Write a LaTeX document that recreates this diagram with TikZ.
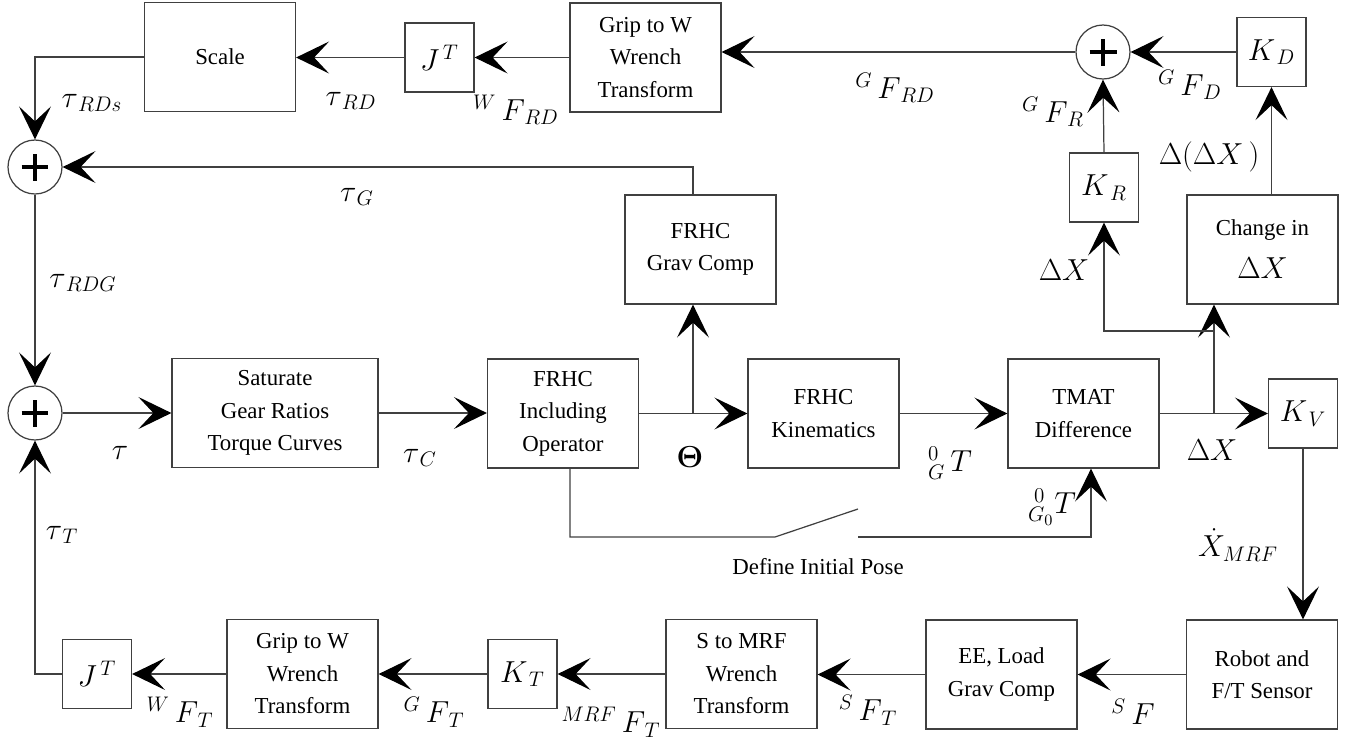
\documentclass[tikz,border=0pt]{standalone}
\usepackage{amsmath}
\usepackage{bm}
\usepackage{fontspec}
\setmainfont{Liberation Serif}
\usetikzlibrary{arrows.meta}

\begin{document}
\begin{tikzpicture}[
  x=0.02cm, y=-0.02cm,
  blk/.style={draw=black!75, line width=0.7pt, minimum width=3.02cm, minimum height=2.18cm, inner sep=0pt, align=center, font=\fontsize{13}{18.5}\selectfont},
  gain/.style={draw=black!75, line width=0.7pt, minimum size=1.38cm, inner sep=0pt, font=\fontsize{18.5}{22}\selectfont},
  sum/.style={circle, draw=black!75, line width=0.7pt, minimum size=1.08cm, inner sep=0pt,
    path picture={\draw[black, line width=2.4pt]
      ([xshift=-0.27cm]path picture bounding box.center) -- ([xshift=0.27cm]path picture bounding box.center)
      ([yshift=-0.27cm]path picture bounding box.center) -- ([yshift=0.27cm]path picture bounding box.center);}},
  sig/.style={inner sep=0pt, font=\fontsize{18}{21}\selectfont},
  lbl/.style={inner sep=0pt, font=\fontsize{13}{15}\selectfont},
  wire/.style={draw=black!75, line width=0.7pt},
  arrow/.style={wire, -{Stealth[length=6.6mm, width=6.4mm, inset=3mm, color=black]}}
]
\useasboundingbox (0,0) rectangle (1347,752);

\node[blk] (scale) at (220,57) {Scale};
\node[gain] (jtop) at (439.5,57.5) {$J^{\,T}$};
\node[blk] (griptop) at (645.5,57.5) {Grip to W\\Wrench\\Transform};
\node[sum] (sumtop) at (1103,52) {};
\node[gain] (kd) at (1271.5,52) {$K_{\,D}$};
\node[gain] (kr) at (1104,187.5) {$K_{\,R}$};
\node[blk] (change) at (1262.5,249.5) {Change in\\[6pt]{\fontsize{18.5}{22}\selectfont$\Delta X$}};

\node[sum] (suma) at (35,167) {};
\node[sum] (sumb) at (35,413) {};
\node[blk] (gravcomp) at (700.5,249.5) {FRHC\\Grav Comp};

\node[blk, minimum width=4.12cm] (sat) at (275,413) {Saturate\\Gear Ratios\\Torque Curves};
\node[blk] (incl) at (563,413.5) {FRHC\\Including\\Operator};
\node[blk] (kin) at (823.5,413.5) {FRHC\\Kinematics};
\node[blk] (tmat) at (1083.5,413.5) {TMAT\\Difference};
\node[gain] (kv) at (1303,413.5) {$K_{\,V}$};

\node[blk] (robot) at (1262,674.5) {Robot and\\F/T Sensor};
\node[blk] (ee) at (1001.5,674.5) {EE, Load\\Grav Comp};
\node[blk] (s2mrf) at (741.5,674) {S to MRF\\Wrench\\Transform};
\node[gain] (kt) at (522.5,674) {$K_{\,T}$};
\node[blk] (gripbot) at (302.5,674) {Grip to W\\Wrench\\Transform};
\node[gain] (jbot) at (97,674) {$J^{\,T}$};

\coordinate (thj) at (693,413.5);
\coordinate (dxj) at (1214,413.5);
\coordinate (krj) at (1214,331);
\coordinate (pose0) at (570,537);
\coordinate (swa) at (775,537);
\coordinate (swb) at (858,509);
\coordinate (swc) at (858,537);
\coordinate (g0) at (1091,537);

\draw[arrow] (jtop.west) -- (jtop.west -| scale.east);
\draw[arrow] (griptop.west) -- (griptop.west -| jtop.east);
\draw[arrow] (sumtop.west) -- (sumtop.west -| griptop.east);
\draw[arrow] (kd.west) -- (sumtop.east);
\draw[arrow] (kr.north) -- (sumtop.south);
\draw[arrow] (change.north -| kd.south) -- (kd.south);
\draw[arrow] (scale.west) -| (suma.north);
\draw[arrow] (gravcomp.north -| thj) |- (suma.east);
\draw[arrow] (suma.south) -- (sumb.north);
\draw[arrow] (sumb.east) -- (sat.west);
\draw[arrow] (sat.east) -- (sat.east -| incl.west);
\draw[arrow] (incl.east) -- (kin.west);
\draw[arrow] (thj) -- (thj |- gravcomp.south);
\draw[arrow] (kin.east) -- (tmat.west);
\draw[arrow] (tmat.east) -- (kv.west);
\draw[arrow] (dxj) -- (dxj |- change.south);
\draw[arrow] (krj) -| (kr.south);
\draw[arrow] (kv.south) -- (kv.south |- robot.north);
\draw[arrow] (robot.west) -- (ee.east);
\draw[arrow] (ee.west) -- (ee.west -| s2mrf.east);
\draw[arrow] (s2mrf.west) -- (kt.east);
\draw[arrow] (kt.west) -- (gripbot.east);
\draw[arrow] (gripbot.west) -- (jbot.east);
\draw[arrow] (jbot.west) -| (sumb.south);
\draw[wire] (pose0 |- incl.south) -- (pose0) -- (swa) -- (swb);
\draw[arrow] (swc) -- (g0) -- (g0 |- tmat.south);

\node[sig] (trds) at (92,103) {$\tau_{\,RDs}$};
\node[sig] (trd) at (351,101) {$\tau_{\,RD}$};
\node[sig] (tg) at (357,197) {$\tau_{\,G}$};
\node[sig] (wfrd) at (516,110) {${}^{W}\,F_{\,RD}$};
\node[sig] (gfrd) at (895,88) {${}^{G}\,F_{\,RD}$};
\node[sig] (gfd) at (1190,85) {${}^{G}\,F_{\,D}$};
\node[sig] (gfr) at (1053,112) {${}^{G}\,F_{\,R}$};
\node[sig] (ddx) at (1209,157) {$\Delta(\Delta X\,)$};
\node[sig] (dxkr) at (1064,270) {$\Delta X$};
\node[sig] (trdg) at (83,283) {$\tau_{\,RDG}$};
\node[sig] (tau) at (120,453) {$\tau$};
\node[sig] (tc) at (420,458) {$\tau_{\,C}$};
\node[sig] (theta) at (690,457) {$\boldsymbol{\Theta}$};
\node[sig] (gt) at (950,463) {${}^{0}_{G}\,T$};
\node[sig] (g0t) at (1052,507) {${}^{\;0}_{G_0}T$};
\node[sig] (dxkv) at (1212,450) {$\Delta X$};
\node[sig] (xdot) at (1238,545) {$\dot{X}_{MRF}$};
\node[lbl] (pose) at (818,567) {Define Initial Pose};
\node[sig] (tt) at (62,535) {$\tau_{\,T}$};
\node[sig] (wft) at (180,712) {${}^{W}\,F_{\,T}$};
\node[sig] (gft) at (434,712) {${}^{G}\,F_{\,T}$};
\node[sig] (mrfft) at (611,722) {${}^{MRF}\,F_{\,T}$};
\node[sig] (sft) at (868,710) {${}^{S}\,F_{\,T}$};
\node[sig] (sf) at (1133,712) {${}^{S}\,F$};
\end{tikzpicture}
\end{document}
